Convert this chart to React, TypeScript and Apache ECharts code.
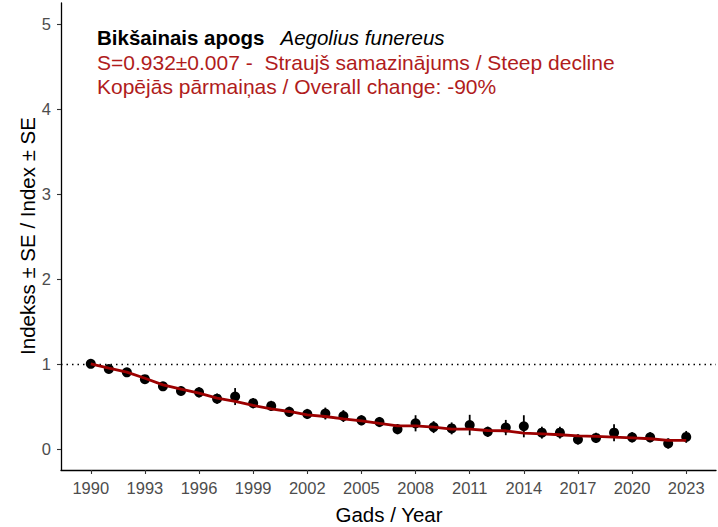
import React, { useEffect, useRef } from "react";
import * as echarts from "echarts";

const years: number[] = [
  1990, 1991, 1992, 1993, 1994, 1995, 1996, 1997, 1998, 1999, 2000, 2001,
  2002, 2003, 2004, 2005, 2006, 2007, 2008, 2009, 2010, 2011, 2012, 2013,
  2014, 2015, 2016, 2017, 2018, 2019, 2020, 2021, 2022, 2023,
];
const indexValues: number[] = [
  1.0, 0.94, 0.9, 0.82, 0.735, 0.68, 0.665, 0.59, 0.615, 0.537, 0.505, 0.435,
  0.41, 0.415, 0.385, 0.335, 0.315, 0.231, 0.3, 0.255, 0.24, 0.28, 0.2, 0.25,
  0.265, 0.19, 0.19, 0.11, 0.128, 0.19, 0.135, 0.135, 0.062, 0.14,
];
const seValues: number[] = [
  0.0, 0.05, 0.05, 0.05, 0.05, 0.05, 0.06, 0.06, 0.1, 0.06, 0.06, 0.06, 0.06,
  0.07, 0.07, 0.06, 0.06, 0.06, 0.095, 0.07, 0.07, 0.12, 0.06, 0.09, 0.13,
  0.07, 0.07, 0.06, 0.06, 0.1, 0.06, 0.06, 0.06, 0.07,
];
const trendValues: number[] = [
  1.0, 0.949, 0.902, 0.831, 0.753, 0.702, 0.655, 0.596, 0.557, 0.51, 0.47,
  0.439, 0.4, 0.38, 0.353, 0.329, 0.298, 0.27, 0.27, 0.255, 0.231, 0.231,
  0.215, 0.212, 0.184, 0.176, 0.165, 0.153, 0.145, 0.137, 0.129, 0.118, 0.098,
  0.098,
];
const xTicks: number[] = [1990, 1993, 1996, 1999, 2002, 2005, 2008, 2011, 2014, 2017, 2020, 2023];
const yTicks: number[] = [0, 1, 2, 3, 4, 5];
const baselineValue = 1;

const titleCommon = "Bikšainais apogs";
const titleLatin = "Aegolius funereus";
const line2 = "S=0.932±0.007 -  Straujš samazinājums / Steep decline";
const line3 = "Kopējās pārmaiņas / Overall change: -90%";
const yName = "Indekss ± SE / Index ± SE";
const xName = "Gads / Year";

const FONT = "'Liberation Sans', Arial, Helvetica, sans-serif";

export default function App() {
  const ref = useRef<HTMLDivElement>(null);
  useEffect(() => {
    if (!ref.current) return;
    const chart = echarts.init(ref.current, undefined, { renderer: "svg" });
    const errData = years.map((y, i) => [y, indexValues[i] - seValues[i], indexValues[i] + seValues[i]]);
    const option: any = {
      animation: false,
      backgroundColor: "#ffffff",
      textStyle: { fontFamily: FONT },
      grid: { left: 61, right: 2, top: 3, bottom: 57 },
      xAxis: {
        type: "value",
        min: 1988.35,
        max: 2024.65,
        splitLine: { show: false },
        axisLine: { show: true, onZero: false, lineStyle: { color: "#000", width: 1.3 } },
        axisTick: { show: true, length: 4, customValues: xTicks, lineStyle: { color: "#333", width: 1.1 } },
        axisLabel: {
          customValues: xTicks,
          color: "#4d4d4d",
          fontSize: 16.5,
          margin: 9,
          fontFamily: FONT,
          formatter: (v: number) => String(v),
        },
      },
      yAxis: {
        type: "value",
        min: -0.25,
        max: 5.25,
        splitLine: { show: false },
        axisLine: { show: true, onZero: false, lineStyle: { color: "#000", width: 1.3 } },
        axisTick: { show: true, length: 4, customValues: yTicks, lineStyle: { color: "#333", width: 1.1 } },
        axisLabel: {
          customValues: yTicks,
          color: "#4d4d4d",
          fontSize: 16.5,
          margin: 10,
          fontFamily: FONT,
          formatter: (v: number) => String(v),
        },
      },
      series: [
        {
          type: "custom",
          data: errData,
          z: 3,
          silent: true,
          renderItem: (params: any, api: any) => {
            const x = api.value(0);
            const lo = api.coord([x, api.value(1)]);
            const hi = api.coord([x, api.value(2)]);
            return {
              type: "line",
              shape: { x1: lo[0], y1: lo[1], x2: hi[0], y2: hi[1] },
              style: { stroke: "#000", lineWidth: 1.8 },
            };
          },
        },
        {
          type: "scatter",
          data: years.map((y, i) => [y, indexValues[i]]),
          symbol: "circle",
          symbolSize: 10,
          itemStyle: { color: "#000", opacity: 1 },
          z: 4,
          silent: true,
        },
        {
          type: "line",
          data: years.map((y, i) => [y, trendValues[i]]),
          showSymbol: false,
          lineStyle: { color: "#9c0000", width: 2.8 },
          z: 5,
          silent: true,
          markLine: {
            silent: true,
            symbol: ["none", "none"],
            label: { show: false },
            lineStyle: { color: "#000", type: [1.5, 4], width: 1.3 },
            data: [{ yAxis: baselineValue }],
          },
        },
      ],
      graphic: [
        {
          type: "text",
          left: 97,
          top: 27,
          style: {
            text: `{b|${titleCommon}}{i|${titleLatin}}`,
            rich: {
              b: { fontSize: 20.5, fontWeight: "bold", fill: "#000", fontFamily: FONT },
              i: { fontSize: 20.5, fontStyle: "italic", fill: "#000", fontFamily: FONT, padding: [0, 0, 0, 16] },
            },
          },
        },
        {
          type: "text",
          left: 97,
          top: 52,
          style: { text: line2, fontSize: 21, fill: "#b01c1c", fontFamily: FONT },
        },
        {
          type: "text",
          left: 97,
          top: 76,
          style: { text: line3, fontSize: 21, fill: "#b01c1c", fontFamily: FONT },
        },
        {
          type: "text",
          x: 27,
          y: 236,
          rotation: Math.PI / 2,
          style: {
            text: yName,
            fontSize: 20.5,
            fill: "#000",
            fontFamily: FONT,
            align: "center",
            verticalAlign: "middle",
          },
        },
        {
          type: "text",
          x: 389,
          y: 514,
          style: {
            text: xName,
            fontSize: 20.5,
            fill: "#000",
            fontFamily: FONT,
            align: "center",
            verticalAlign: "middle",
          },
        },
      ],
    };
    chart.setOption(option);
    return () => chart.dispose();
  }, []);
  return (
    <div
      ref={ref}
      style={{ position: "fixed", left: 0, top: 0, width: 718, height: 527 }}
    />
  );
}
